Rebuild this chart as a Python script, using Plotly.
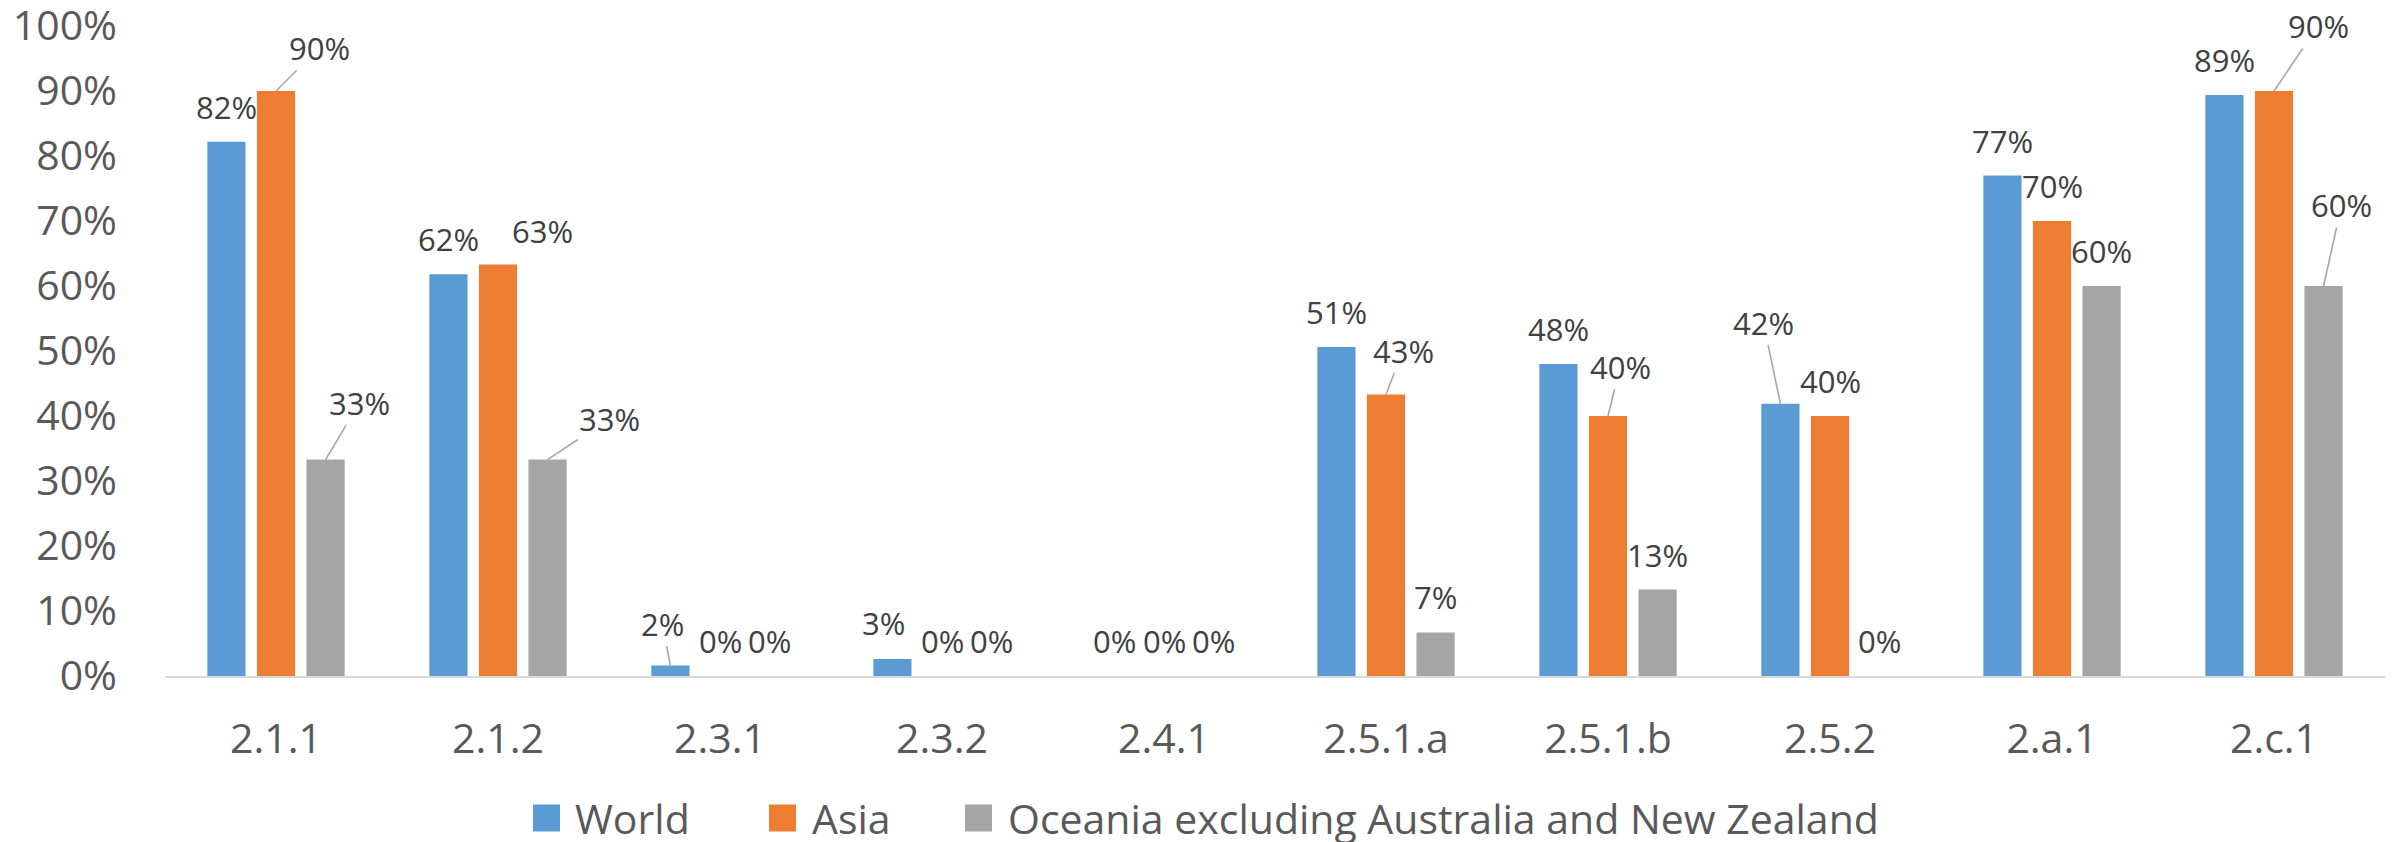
import plotly.graph_objects as go

categories = ["2.1.1", "2.1.2", "2.3.1", "2.3.2", "2.4.1", "2.5.1.a", "2.5.1.b", "2.5.2", "2.a.1", "2.c.1"]
world = [0.822, 0.618, 0.016, 0.026, 0.0, 0.506, 0.480, 0.419, 0.770, 0.894]
asia = [0.900, 0.633, 0.0, 0.0, 0.0, 0.433, 0.400, 0.400, 0.700, 0.900]
oceania = [0.333, 0.333, 0.0, 0.0, 0.0, 0.067, 0.133, 0.0, 0.600, 0.600]
y_ticks = [0.0, 0.1, 0.2, 0.3, 0.4, 0.5, 0.6, 0.7, 0.8, 0.9, 1.0]

series_names = ["World", "Asia", "Oceania excluding Australia and New Zealand"]
series_values = [world, asia, oceania]
series_colors = ["#5B9BD5", "#ED7D31", "#A5A5A5"]

FONT = "Open Sans, Noto Sans, Liberation Sans, sans-serif"
W, H = 2392, 842
ML, MR, MT, MB = 165, 7, 26, 166
PW, PH = W - ML - MR, H - MT - MB
BARGAP, GROUPGAP = 0.33, 0.23

# label placement (style): offset of label centre from bar-top centre in px, leader line flag
DEFAULT_DY = -35
label_style = {
    (1, 0): (43, -43, True),
    (1, 1): (44, -34, False),
    (2, 0): (34, -57, True),
    (2, 1): (62, -41, True),
    (0, 2): (-8, -42, True),
    (0, 3): (-9, -36, False),
    (1, 5): (17, -44, True),
    (1, 6): (12, -49, True),
    (0, 7): (-17, -81, True),
    (1, 9): (44, -65, True),
    (2, 9): (18, -81, True),
}

fig = go.Figure()
for name, vals, color in zip(series_names, series_values, series_colors):
    fig.add_trace(go.Bar(
        x=categories, y=vals, name=name,
        marker=dict(color=color, line=dict(width=0)),
        showlegend=False, hoverinfo="x+y+name",
    ))

cat_px = PW / len(categories)
slot_px = cat_px * (1 - BARGAP) / len(series_names)
annotations = []
for si, vals in enumerate(series_values):
    xshift = (si - (len(series_names) - 1) / 2) * slot_px
    for ci, (cat, v) in enumerate(zip(categories, vals)):
        dx, dy, leader = label_style.get((si, ci), (0, DEFAULT_DY, False))
        txt = f"{v:.0%}"
        if leader:
            annotations.append(dict(
                x=cat, y=v, xref="x", yref="y", text=txt, xshift=xshift,
                showarrow=True, arrowhead=0, arrowwidth=1.6, arrowcolor="#A6A6A6",
                ax=dx, ay=dy, axref="pixel", ayref="pixel", standoff=0,
                font=dict(family=FONT, size=31, color="#404040"),
                xanchor="center", yanchor="middle",
            ))
        else:
            annotations.append(dict(
                x=cat, y=v, xref="x", yref="y", text=txt,
                xshift=xshift + dx, yshift=-dy, showarrow=False,
                font=dict(family=FONT, size=31, color="#404040"),
                xanchor="center", yanchor="middle",
            ))

# legend drawn as swatches + text (Excel style, large swatches)
legend_swatch_left = [533, 769, 965]
legend_text_left = [573, 810, 1006]
legend_cy = 818
shapes = []
for name, color, sx, tx in zip(series_names, series_colors, legend_swatch_left, legend_text_left):
    shapes.append(dict(
        type="rect", xref="paper", yref="paper",
        x0=(sx - ML) / PW, x1=(sx + 27 - ML) / PW,
        y0=(H - MB - (legend_cy + 13.5)) / PH, y1=(H - MB - (legend_cy - 13.5)) / PH,
        fillcolor=color, line=dict(width=0),
    ))
    annotations.append(dict(
        x=(tx - ML) / PW, y=(H - MB - legend_cy) / PH, xref="paper", yref="paper",
        text=name, showarrow=False, xanchor="left", yanchor="middle",
        font=dict(family=FONT, size=41, color="#595959"),
    ))

fig.update_layout(
    width=W, height=H,
    paper_bgcolor="white", plot_bgcolor="white",
    margin=dict(l=ML, r=MR, t=MT, b=MB, autoexpand=False),
    barmode="group", bargap=BARGAP, bargroupgap=GROUPGAP,
    font=dict(family=FONT, color="#595959"),
    showlegend=False,
    annotations=annotations, shapes=shapes,
    xaxis=dict(
        showgrid=False, showline=True, linecolor="#D9D9D9", linewidth=2,
        ticks="", tickfont=dict(family=FONT, size=41, color="#595959"),
        ticklabelstandoff=26, automargin=False,
    ),
    yaxis=dict(
        range=[0, 1], tickmode="array", tickvals=y_ticks, tickformat=".0%",
        showgrid=False, zeroline=False, showline=False, ticks="",
        tickfont=dict(family=FONT, size=41, color="#595959"),
        ticklabelstandoff=47, automargin=False, ticklabeloverflow="allow",
    ),
)

fig.write_html(
    "out.html",
    config={"displayModeBar": False},
    post_script="document.body.style.margin='0';document.body.style.overflow='hidden';",
)
